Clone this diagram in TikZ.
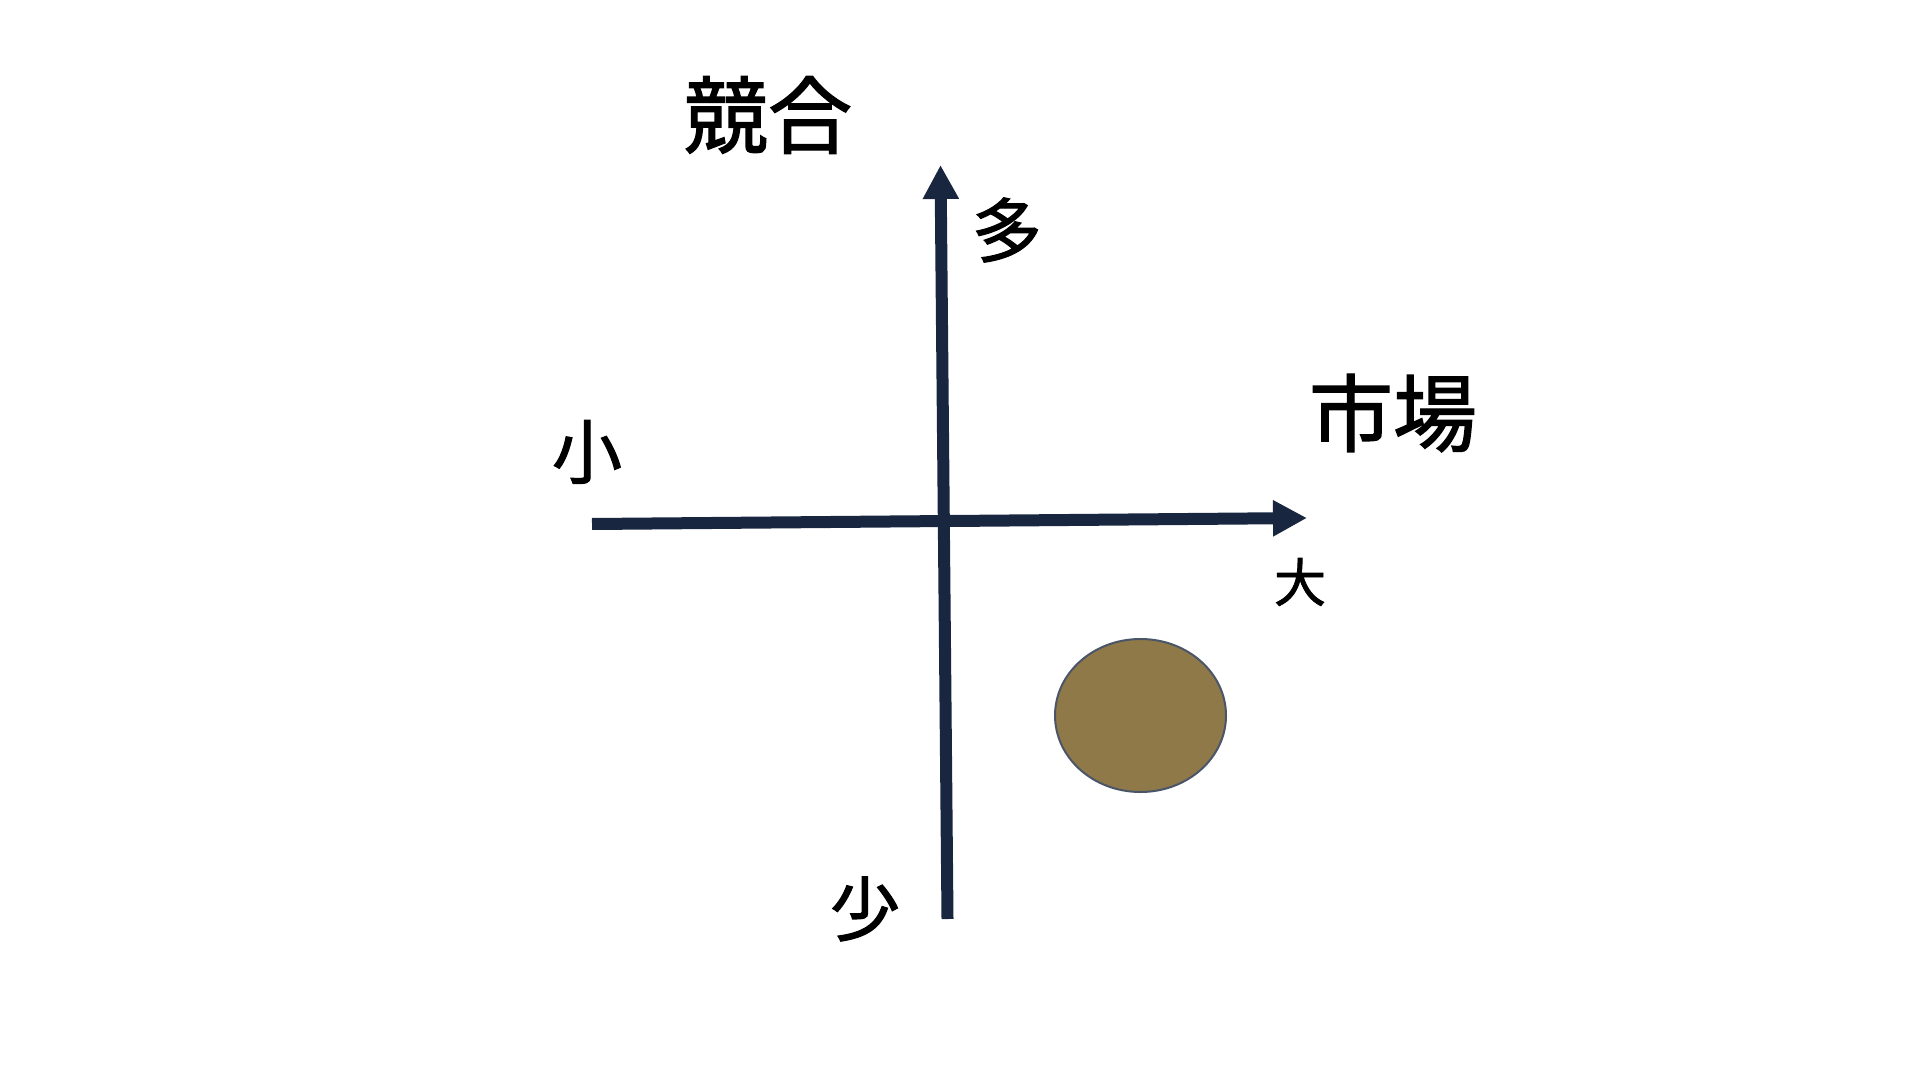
\documentclass[tikz,border=0pt]{standalone}
\usepackage{fontspec}
\newfontfamily\jpfont{Noto Sans CJK JP}[FakeBold=1.6]
\usetikzlibrary{arrows.meta}

\begin{document}
\begin{tikzpicture}[x=0.5pt,y=0.5pt,yscale=-1,xscale=1]
\useasboundingbox (0,0) rectangle (1920,1080); %set diagram to the 1920 x 1080 slide

\tikzset{axis/.style={draw={rgb, 255:red, 24; green, 38; blue, 64 }, line width=6pt, -{Triangle[length=17pt,width=17pt]}},
  axislbl/.style={inner sep=0pt, font=\jpfont\fontsize{35pt}{35pt}\selectfont}}

%Axis ends
\coordinate (vBottom) at (947.5,919);
\coordinate (vTop) at (940.5,165);
\coordinate (hLeft) at (592,524);
\coordinate (hRight) at (1307,518);

%Straight Lines [id:vertical axis]
\draw [axis] (vBottom) -- (vTop);
%Straight Lines [id:horizontal axis]
\draw [axis] (hLeft) -- (hRight);

%Shape: Ellipse [id:position]
\draw [draw={rgb, 255:red, 74; green, 85; blue, 104 }, fill={rgb, 255:red, 143; green, 121; blue, 73 }, line width=1pt] (1140.5,715.5) ellipse (85.5 and 76.5);

% Text Node
\draw (768,115) node (competeLbl) [inner sep=0pt, font=\jpfont\fontsize{42pt}{42pt}\selectfont] {競合};
% Text Node
\draw (1393,413) node (marketLbl) [inner sep=0pt, font=\jpfont\fontsize{42pt}{42pt}\selectfont] {市場};
% Text Node
\draw (1007,230) node (manyLbl) [axislbl] {多};
% Text Node
\draw (865,909) node (fewLbl) [axislbl] {少};
% Text Node
\draw (587,452) node (smallLbl) [axislbl] {小};
% Text Node
\draw (1300,582) node (largeLbl) [inner sep=0pt, font=\jpfont\fontsize{26pt}{26pt}\selectfont] {大};

\end{tikzpicture}
\end{document}
